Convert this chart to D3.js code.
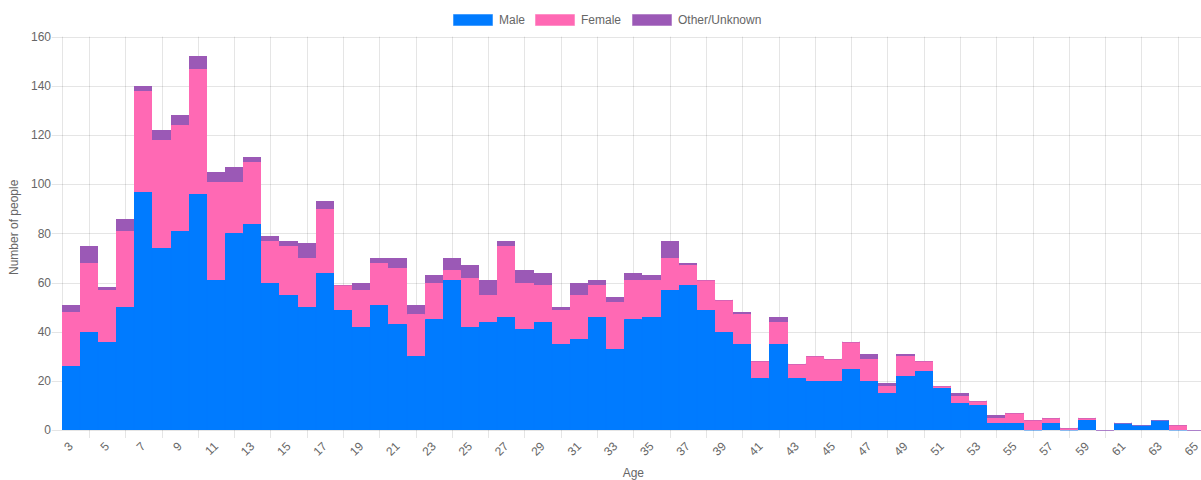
<!DOCTYPE html>
<html>
<head>
<meta charset="utf-8">
<script src="https://cdn.jsdelivr.net/npm/d3@7"></script>
<style>
  html, body { margin: 0; padding: 0; background: #fff; }
  svg { display: block; font-family: "Liberation Sans", Arial, Helvetica, sans-serif; }
</style>
</head>
<body>
<svg id="chart" width="1201" height="480"></svg>
<script>
const ages = [3,4,5,6,7,8,9,10,11,12,13,14,15,16,17,18,19,20,21,22,23,24,25,26,27,28,29,30,31,32,33,34,35,36,37,38,39,40,41,42,43,44,45,46,47,48,49,50,51,52,53,54,55,56,57,58,59,60,61,62,63,64,65];
const male = [26,40,36,50,97,74,81,96,61,80,84,60,55,50,64,49,42,51,43,30,45,61,42,44,46,41,44,35,37,46,33,45,46,57,59,49,40,35,21,35,21,20,20,25,20,15,22,24,17,11,10,3,3,0,3,0,4,0,3,2,4,0,0];
const female = [22,28,21,31,41,44,43,51,40,21,25,17,20,20,26,10,15,17,23,17,15,4,20,11,29,19,15,14,18,13,19,16,15,13,8,12,13,12,7,9,6,10,9,11,9,3,8,4,1,3,2,2,4,4,2,1,1,0,0,0,0,2,0];
const other = [3,7,1,5,2,4,4,5,4,6,2,2,2,6,3,0,3,2,4,4,3,5,5,6,2,5,5,1,5,2,2,3,2,7,1,0,0,1,0,2,0,0,0,0,2,1,1,0,0,1,0,1,0,0,0,0,0,0,0,0,0,0,0];
const seriesNames = ["Male", "Female", "Other/Unknown"];
const seriesColors = ["#007bff", "#ff69b4", "#9b59b6"];
const yTicks = [0,20,40,60,80,100,120,140,160];

const svg = d3.select("#chart");
const pLeft = 61.7, pRight = 1205, pTop = 36.7, pBottom = 430;
const textColor = "#666";
const gridColor = "rgba(0,0,0,0.1)";

const x = d3.scaleBand().domain(ages).range([pLeft, pRight]).padding(0);
const y = d3.scaleLinear().domain([0, 160]).range([pBottom, pTop]);
const bx0 = a => Math.round(x(a));
const bx1 = a => Math.round(x(a) + x.bandwidth());

// grid lines (horizontal)
const g = svg.append("g");
g.selectAll("line.h").data(yTicks).join("line")
  .attr("x1", pLeft - 10).attr("x2", pRight)
  .attr("y1", d => Math.round(y(d)) + 0.5).attr("y2", d => Math.round(y(d)) + 0.5)
  .attr("stroke", gridColor).attr("stroke-width", 1);
// vertical grid lines at even ages (centres), ticks extend below axis
const evenAges = ages.filter((a, i) => i % 2 === 1);
g.selectAll("line.v").data(evenAges).join("line")
  .attr("x1", d => Math.round(x(d) + x.bandwidth() / 2) + 0.5)
  .attr("x2", d => Math.round(x(d) + x.bandwidth() / 2) + 0.5)
  .attr("y1", pTop).attr("y2", pBottom + 8)
  .attr("stroke", gridColor).attr("stroke-width", 1);
// left axis line
g.append("line").attr("x1", Math.round(pLeft) + 0.5).attr("x2", Math.round(pLeft) + 0.5)
  .attr("y1", pTop).attr("y2", pBottom)
  .attr("stroke", gridColor);

// stacked bars
const table = ages.map((a, i) => ({ age: a, Male: male[i], Female: female[i], "Other/Unknown": other[i] }));
const stack = d3.stack().keys(seriesNames)(table);
const bars = svg.append("g");
stack.forEach((layer, si) => {
  const col = seriesColors[si];
  const lg = bars.append("g");
  lg.selectAll("rect").data(layer).join("rect")
    .attr("x", d => bx0(d.data.age))
    .attr("width", d => bx1(d.data.age) - bx0(d.data.age))
    .attr("y", d => y(d[1]))
    .attr("height", d => Math.max(0, y(d[0]) - y(d[1])))
    .attr("fill", col)
    .attr("shape-rendering", "crispEdges");
  lg.selectAll("path").data(layer).join("path")
    .attr("d", d => {
      const x0 = bx0(d.data.age) + 0.5, x1 = bx1(d.data.age) - 0.5;
      const yt = Math.round(y(d[1])) + 0.5, yb = y(d[0]);
      return `M${x0},${yb}L${x0},${yt}L${x1},${yt}L${x1},${yb}`;
    })
    .attr("fill", "none").attr("stroke", col).attr("stroke-opacity", 0.4).attr("stroke-width", 1);
});

// y tick labels
svg.append("g").selectAll("text").data(yTicks).join("text")
  .attr("x", 51).attr("y", d => y(d)).attr("dy", "0.35em")
  .attr("text-anchor", "end").attr("font-size", 12).attr("fill", textColor)
  .text(d => d);

// x tick labels (odd ages), rotated
const oddAges = ages.filter((a, i) => i % 2 === 0);
svg.append("g").selectAll("text").data(oddAges).join("text")
  .attr("transform", d => `translate(${x(d) + x.bandwidth() / 2},${pBottom + 14}) rotate(-45)`)
  .attr("text-anchor", "end").attr("dy", "0.35em")
  .attr("font-size", 12).attr("fill", textColor)
  .text(d => d);

// axis titles
svg.append("text").attr("transform", `translate(18,${(pTop + pBottom) / 2 - 6}) rotate(-90)`)
  .attr("text-anchor", "middle").attr("font-size", 12).attr("fill", textColor)
  .text("Number of people");
svg.append("text").attr("x", (pLeft + pRight) / 2).attr("y", 477)
  .attr("text-anchor", "middle").attr("font-size", 12).attr("fill", textColor)
  .text("Age");

// legend
const legendX = [453, 535, 632];
const lgd = svg.append("g");
seriesNames.forEach((name, i) => {
  lgd.append("rect").attr("x", legendX[i] + 0.5).attr("y", 14.5).attr("width", 39).attr("height", 11)
    .attr("fill", seriesColors[i]).attr("stroke", seriesColors[i]).attr("stroke-opacity", 0.45);
  lgd.append("text").attr("x", legendX[i] + 46).attr("y", 20).attr("dy", "0.35em")
    .attr("font-size", 12).attr("fill", textColor).text(name);
});
</script>
</body>
</html>
